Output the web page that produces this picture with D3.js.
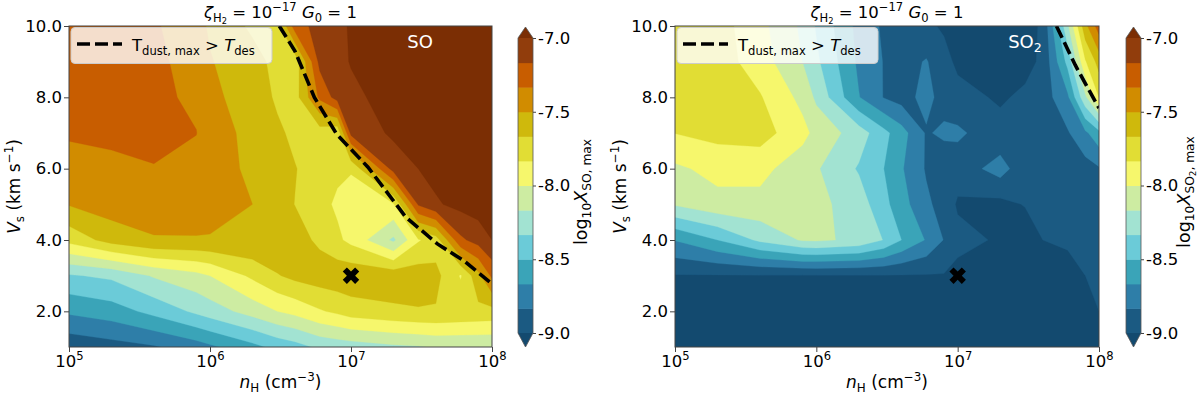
<!DOCTYPE html>
<html>
<head>
<meta charset="utf-8">
<script src="https://cdn.jsdelivr.net/npm/d3@7"></script>
<style>
  body { margin: 0; background: #fff; }
  text { font-family: "DejaVu Sans", sans-serif; }
</style>
</head>
<body>
<script>
// grid of the models: densities (cm-3) and shock velocities (km/s)
var nHValues = [1e5, 2e5, 4e5, 8e5, 1e6, 2e6, 3e6, 4e6, 6e6, 8e6, 1e7, 2e7, 3e7, 4e7, 6e7, 8e7, 1e8];
var vsValues = [1, 2, 3, 4, 5, 6, 7, 8, 9, 10];

// contour levels of log10 X and colorbar ticks
var levels = [-9, -8.833, -8.667, -8.5, -8.333, -8.167, -8, -7.833, -7.667, -7.5, -7.333, -7.167, -7];
var cbTicks = [-9, -8.5, -8, -7.5, -7];
var vsTicks = [2, 4, 6, 8, 10];
var nHTicks = [1e5, 1e6, 1e7, 1e8];

// log10 X(SO)max, one row per Vs (1 -> 10), one column per nH
var soValues = [
  [-8.95, -8.9, -8.85, -8.75, -8.7, -8.55, -8.45, -8.4, -8.3, -8.27, -8.25, -8.2, -8.18, -8.15, -8.15, -8.15, -8.15],
  [-8.64, -8.58, -8.45, -8.3, -8.25, -8.1, -8.0, -7.95, -7.85, -7.8, -7.75, -7.7, -7.68, -7.68, -7.7, -7.71, -7.72],
  [-8.35, -8.3, -8.15, -8.05, -8.0, -7.8, -7.68, -7.62, -7.58, -7.56, -7.55, -7.56, -7.58, -7.62, -7.85, -7.55, -7.3],
  [-7.78, -7.6, -7.51, -7.51, -7.51, -7.51, -7.51, -7.6, -7.7, -7.8, -7.88, -8.2, -7.85, -7.75, -7.2, -7.1, -7.0],
  [-7.49, -7.42, -7.44, -7.43, -7.45, -7.5, -7.6, -7.67, -7.78, -7.86, -7.9, -7.85, -7.15, -7.02, -6.95, -6.92, -6.9],
  [-7.41, -7.38, -7.34, -7.38, -7.43, -7.53, -7.6, -7.66, -7.74, -7.8, -7.82, -7.1, -7.0, -6.95, -6.9, -6.9, -6.9],
  [-7.31, -7.29, -7.29, -7.33, -7.42, -7.55, -7.64, -7.7, -7.75, -7.8, -7.12, -6.97, -6.92, -6.9, -6.9, -6.9, -6.9],
  [-7.29, -7.28, -7.3, -7.36, -7.46, -7.58, -7.69, -7.74, -7.3, -7.1, -7.04, -6.93, -6.9, -6.9, -6.9, -6.9, -6.9],
  [-7.27, -7.28, -7.3, -7.39, -7.49, -7.6, -7.72, -7.78, -7.12, -7.05, -6.99, -6.9, -6.9, -6.9, -6.9, -6.9, -6.9],
  [-7.27, -7.28, -7.31, -7.45, -7.52, -7.7, -7.75, -7.25, -7.1, -7.05, -6.98, -6.9, -6.9, -6.9, -6.9, -6.9, -6.9]
];

// log10 X(SO2)max
var so2Values = [
  [-9.15, -9.15, -9.15, -9.15, -9.15, -9.15, -9.15, -9.15, -9.15, -9.15, -9.15, -9.15, -9.15, -9.15, -9.15, -9.15, -9.15],
  [-9.1, -9.1, -9.1, -9.1, -9.1, -9.1, -9.1, -9.1, -9.1, -9.1, -9.1, -9.1, -9.1, -9.1, -9.1, -9.05, -9.0],
  [-9.01, -9.01, -9.01, -9.01, -9.01, -9.01, -9.01, -9.01, -9.01, -9.01, -9.05, -9.1, -9.1, -9.08, -9.05, -9.0, -8.97],
  [-8.66, -8.5, -8.3, -8.15, -8.14, -8.2, -8.34, -8.5, -8.68, -8.84, -8.95, -9.02, -9.1, -9.0, -8.98, -8.96, -8.95],
  [-8.15, -8.05, -8.05, -8.08, -8.12, -8.25, -8.45, -8.6, -8.8, -8.9, -9.02, -9.05, -8.99, -8.97, -8.95, -8.94, -8.93],
  [-8.03, -7.95, -7.95, -8.1, -8.15, -8.35, -8.5, -8.65, -8.85, -8.95, -8.93, -8.76, -8.95, -8.95, -8.92, -8.9, -8.85],
  [-7.83, -7.78, -7.76, -7.95, -8.05, -8.25, -8.45, -8.6, -8.85, -8.8, -8.8, -8.95, -8.95, -8.92, -8.85, -8.7, -8.55],
  [-7.72, -7.72, -7.82, -8.05, -8.2, -8.66, -8.84, -8.9, -8.78, -8.9, -8.95, -9.02, -8.97, -8.92, -8.7, -8.2, -7.83],
  [-7.72, -7.75, -7.92, -8.17, -8.3, -8.7, -8.84, -8.9, -8.82, -8.95, -9.03, -9.1, -9.05, -8.97, -8.45, -7.85, -7.6],
  [-7.72, -7.76, -7.95, -8.2, -8.35, -8.72, -8.86, -8.93, -8.97, -9.02, -9.05, -9.1, -9.05, -8.98, -8.2, -7.55, -7.25]
];

// dust temperature above desorption temperature (dashed curve)
var soDashNH = [3.1e6, 4.0e6, 5.5e6, 7.9e6, 1.32e7, 2.45e7, 4.1e7, 6.3e7, 1e8];
var soDashVs = [10, 9.3, 8.0, 6.97, 6.04, 4.64, 3.89, 3.42, 2.77];
var so2DashNH = [5.0e7, 6.8e7, 8.1e7, 1e8];
var so2DashVs = [10, 8.9, 8.35, 7.7];

// reference model marker
var markNH = [1e7];
var markVs = [3];

// colours of the bands (below -9, bands, above -7)
var underColor = "#134a6f";
var overColor = "#7b2e04";
var bandColors = ["#1b5a82", "#2e7ea8", "#3aa4b8", "#6bcbd8", "#a2e3d2", "#cdeca2",
                  "#f6f76c", "#e1dd34", "#cfb90c", "#d18c00", "#c85d00", "#913d0c"];

var width = 1200, height = 394;
var svg = d3.select("body").append("svg")
    .attr("width", width)
    .attr("height", height);

var logN = nHValues.map(function (d) { return Math.log10(d); });

// contour space (cell centres at i + 0.5) -> grid value
function gridPos(c, arr) {
    var i = Math.max(0, Math.min(arr.length - 1, c - 0.5));
    var i0 = Math.floor(i), i1 = Math.min(i0 + 1, arr.length - 1);
    return arr[i0] + (arr[i1] - arr[i0]) * (i - i0);
}

// text made of pieces with sub/superscripts
function rich(text, parts, size) {
    var shift = 0;
    parts.forEach(function (p) {
        var target = 0, fs = size;
        if (p.sub) { target = 0.22 * size; fs = size * 0.7; }
        if (p.sub2) { target = 0.35 * size; fs = size * 0.5; }
        if (p.sup) { target = -0.42 * size; fs = size * 0.7; }
        var ts = text.append("tspan")
            .attr("dy", target - shift)
            .attr("font-size", fs)
            .text(p.t);
        if (p.it) ts.attr("font-style", "italic");
        shift = target;
    });
}

function drawPanel(cfg) {
    var g = svg.append("g");
    var x = d3.scaleLog().domain([1e5, 1e8]).range([cfg.x0, cfg.x1]);
    var y = d3.scaleLinear().domain([1, 10]).range([cfg.y1, cfg.y0]);

    var clipId = "clip" + cfg.id;
    svg.append("clipPath").attr("id", clipId)
        .append("rect")
        .attr("x", cfg.x0).attr("y", cfg.y0)
        .attr("width", cfg.x1 - cfg.x0).attr("height", cfg.y1 - cfg.y0);

    var plot = g.append("g").attr("clip-path", "url(#" + clipId + ")");

    // filled contours
    var nx = nHValues.length, ny = vsValues.length;
    var flat = [];
    cfg.values.forEach(function (row) { row.forEach(function (v) { flat.push(v); }); });
    var contours = d3.contours().size([nx, ny]).thresholds(levels)(flat);

    var proj = d3.geoTransform({
        point: function (cx, cy) {
            this.stream.point(x(Math.pow(10, gridPos(cx, logN))), y(gridPos(cy, vsValues)));
        }
    });
    var path = d3.geoPath(proj);

    plot.append("rect")
        .attr("x", cfg.x0).attr("y", cfg.y0)
        .attr("width", cfg.x1 - cfg.x0).attr("height", cfg.y1 - cfg.y0)
        .attr("fill", underColor);

    plot.selectAll(".band")
        .data(contours)
        .enter()
        .append("path")
        .attr("class", "band")
        .attr("d", path)
        .attr("fill", function (d, i) { return i < bandColors.length ? bandColors[i] : overColor; })
        .attr("stroke", function (d, i) { return i < bandColors.length ? bandColors[i] : overColor; })
        .attr("stroke-width", 0.3);

    // desorption curve
    var line = d3.line()
        .x(function (d) { return x(d[0]); })
        .y(function (d) { return y(d[1]); });
    plot.append("path")
        .datum(d3.zip(cfg.dashNH, cfg.dashVs))
        .attr("d", line)
        .attr("fill", "none")
        .attr("stroke", "#000")
        .attr("stroke-width", 3.6)
        .attr("stroke-dasharray", "13,5");

    // marker
    plot.selectAll(".mark")
        .data(d3.zip(markNH, markVs))
        .enter()
        .append("path")
        .attr("class", "mark")
        .attr("d", d3.symbol(d3.symbolCross, 170))
        .attr("transform", function (d) { return "translate(" + x(d[0]) + "," + y(d[1]) + ") rotate(45)"; })
        .attr("fill", "#000");

    // species label
    var sp = plot.append("text")
        .attr("x", cfg.spX).attr("y", 48)
        .attr("fill", "#fff")
        .attr("text-anchor", "middle");
    rich(sp, cfg.species, 18);

    // legend
    var lg = g.append("g");
    lg.append("rect")
        .attr("x", cfg.x0 + 2).attr("y", cfg.y0 + 1.5)
        .attr("width", 201).attr("height", 36)
        .attr("rx", 4)
        .attr("fill", "#fff").attr("fill-opacity", 0.8)
        .attr("stroke", "#ccc").attr("stroke-width", 1);
    lg.append("line")
        .attr("x1", cfg.x0 + 8).attr("x2", cfg.x0 + 53)
        .attr("y1", cfg.y0 + 18).attr("y2", cfg.y0 + 18)
        .attr("stroke", "#000").attr("stroke-width", 3.6)
        .attr("stroke-dasharray", "13,5");
    var lt = lg.append("text").attr("x", cfg.x0 + 63).attr("y", cfg.y0 + 25);
    rich(lt, [{ t: "T" }, { t: "dust, max", sub: true }, { t: " > " }, { t: "T", it: true }, { t: "des", sub: true }], 16.5);

    // frame
    g.append("rect")
        .attr("x", cfg.x0).attr("y", cfg.y0)
        .attr("width", cfg.x1 - cfg.x0).attr("height", cfg.y1 - cfg.y0)
        .attr("fill", "none").attr("stroke", "#444").attr("stroke-width", 1);

    // axes
    var xAxis = g.append("g")
        .attr("transform", "translate(0," + cfg.y1 + ")")
        .call(d3.axisBottom(x).tickValues(nHTicks).tickSize(5).tickFormat(""));
    xAxis.select(".domain").remove();
    xAxis.selectAll(".tick line").attr("stroke", "#444");
    xAxis.selectAll(".tick").each(function (d) {
        var t = d3.select(this).append("text")
            .attr("y", 20).attr("fill", "#000").attr("text-anchor", "middle");
        rich(t, [{ t: "10" }, { t: String(Math.round(Math.log10(d))), sup: true }], 16.5);
    });

    var yAxis = g.append("g")
        .attr("transform", "translate(" + cfg.x0 + ",0)")
        .call(d3.axisLeft(y).tickValues(vsTicks).tickSize(5).tickPadding(2)
            .tickFormat(d3.format(".1f")));
    yAxis.select(".domain").remove();
    yAxis.selectAll(".tick line").attr("stroke", "#444");
    yAxis.selectAll(".tick text").attr("font-size", 16.5).attr("fill", "#000");

    // title and axis labels
    var tt = g.append("text")
        .attr("x", (cfg.x0 + cfg.x1) / 2).attr("y", 18)
        .attr("text-anchor", "middle");
    rich(tt, [{ t: "\u03b6", it: true }, { t: "H", sub: true }, { t: "2", sub2: true },
              { t: " = 10" }, { t: "\u221217", sup: true }, { t: " " }, { t: "G", it: true },
              { t: "0", sub: true }, { t: " = 1" }], 16.5);

    var xl = g.append("text")
        .attr("x", (cfg.x0 + cfg.x1) / 2).attr("y", 388)
        .attr("text-anchor", "middle");
    rich(xl, [{ t: "n", it: true }, { t: "H", sub: true }, { t: " (cm" }, { t: "\u22123", sup: true }, { t: ")" }], 17);

    var yl = g.append("text")
        .attr("transform", "translate(" + (cfg.x0 - 49) + "," + ((cfg.y0 + cfg.y1) / 2) + ") rotate(-90)")
        .attr("text-anchor", "middle");
    rich(yl, [{ t: "V", it: true }, { t: "s", sub: true }, { t: " (km s" }, { t: "\u22121", sup: true }, { t: ")" }], 17);

    // colorbar
    var cb = g.append("g");
    var cy = d3.scaleLinear().domain([-9, -7]).range([333, 38]);
    var cx0 = cfg.cbx, cw = 15;
    cb.selectAll(".cbband")
        .data(d3.pairs(levels))
        .enter()
        .append("rect")
        .attr("x", cx0).attr("width", cw)
        .attr("y", function (d) { return cy(d[1]); })
        .attr("height", function (d) { return cy(d[0]) - cy(d[1]) + 0.5; })
        .attr("fill", function (d, i) { return bandColors[i]; });
    cb.append("path")
        .attr("d", "M" + cx0 + "," + cy(-7) + "L" + (cx0 + cw / 2) + ",27L" + (cx0 + cw) + "," + cy(-7) + "Z")
        .attr("fill", overColor);
    cb.append("path")
        .attr("d", "M" + cx0 + "," + cy(-9) + "L" + (cx0 + cw / 2) + ",347L" + (cx0 + cw) + "," + cy(-9) + "Z")
        .attr("fill", underColor);
    cb.append("path")
        .attr("d", "M" + cx0 + "," + cy(-7) + "L" + (cx0 + cw / 2) + ",27L" + (cx0 + cw) + "," + cy(-7) +
            "L" + (cx0 + cw) + "," + cy(-9) + "L" + (cx0 + cw / 2) + ",347L" + cx0 + "," + cy(-9) + "Z")
        .attr("fill", "none").attr("stroke", "#555").attr("stroke-width", 0.8);
    var cAxis = cb.append("g")
        .attr("transform", "translate(" + (cx0 + cw) + ",0)")
        .call(d3.axisRight(cy).tickValues(cbTicks).tickSize(3).tickPadding(2)
            .tickFormat(function (d) { return d.toFixed(1); }));
    cAxis.select(".domain").remove();
    cAxis.selectAll(".tick line").attr("stroke", "#444");
    cAxis.selectAll(".tick text").attr("font-size", 16.5).attr("fill", "#000");

    var cl = cb.append("text")
        .attr("transform", "translate(" + cfg.cbLabelX + ",192) rotate(-90)")
        .attr("text-anchor", "middle");
    rich(cl, [{ t: "log" }, { t: "10", sub: true }, { t: "X", it: true }].concat(cfg.cbSub), 17.5);
}

drawPanel({
    id: "so", x0: 69, x1: 492, y0: 26, y1: 347, cbx: 518, cbLabelX: 587,
    values: soValues, dashNH: soDashNH, dashVs: soDashVs,
    spX: 420, species: [{ t: "SO" }],
    cbSub: [{ t: "SO, max", sub: true }]
});

drawPanel({
    id: "so2", x0: 675, x1: 1099, y0: 26, y1: 347, cbx: 1126, cbLabelX: 1190,
    values: so2Values, dashNH: so2DashNH, dashVs: so2DashVs,
    spX: 1025, species: [{ t: "SO" }, { t: "2", sub: true }],
    cbSub: [{ t: "SO", sub: true }, { t: "2", sub2: true }, { t: ", max", sub: true }]
});
</script>
</body>
</html>
